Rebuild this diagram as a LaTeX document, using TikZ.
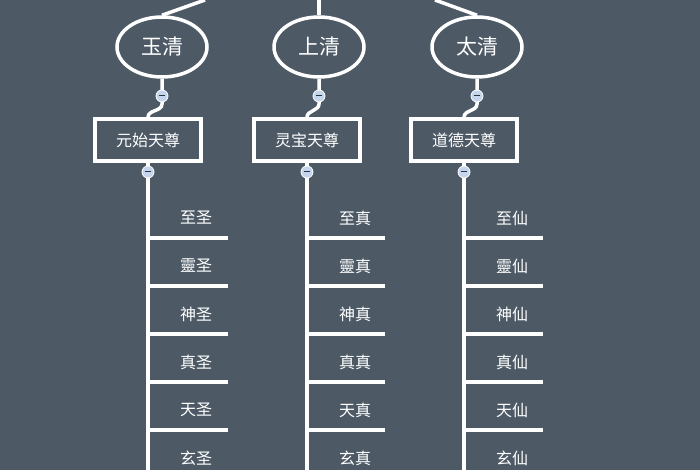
\documentclass[tikz,border=0pt]{standalone}
\usepackage{fontspec}
\setmainfont{Noto Sans CJK SC}
\usetikzlibrary{shapes.geometric}
\definecolor{bg}{HTML}{4D5A66}
\definecolor{minus}{HTML}{C5D5EE}
\begin{document}
\begin{tikzpicture}[x=1pt,y=-1pt,
  wl/.style={draw=white,line width=3.5pt},
  ell/.style={ellipse,wl,minimum width=90pt,minimum height=60pt,text=white,font=\fontsize{21}{21}\selectfont},
  box/.style={rectangle,wl,minimum width=106pt,minimum height=42pt,text=white,font=\fontsize{16}{16}\selectfont},
  lab/.style={text=white,font=\fontsize{16}{16}\selectfont},
  mn/.style={circle,fill=minus,draw=white,line width=0.8pt,minimum size=12pt,inner sep=0pt},
  mnline/.style={draw=bg!60!black,line width=1pt}]
\fill[bg] (0,0) rectangle (700,470);
\useasboundingbox (0,0) rectangle (700,470);
\coordinate (t1) at (205,0);
\coordinate (t2) at (319,0);
\coordinate (t3) at (435,0);
\foreach \i/\ex/\bx/\bn/\en/\sx/\bend in {1/162/148/元始天尊/玉清/圣/228, 2/319/307/灵宝天尊/上清/真/385, 3/477/464/道德天尊/太清/仙/543}{
  \node[ell] (e\i) at (\ex,47) {\en};
  \node[box] (b\i) at (\bx,140) {\bn};
  \coordinate (m\i) at (\ex,96);
  \coordinate (n\i) at (\bx,172);
  \coordinate (v\i) at (\bx,475);
  \draw[wl] (e\i.south) -- (m\i) -- (\ex,104) to[out=-90,in=90] (b\i.north);
  \draw[wl] (b\i.south) -- (v\i);
  \foreach \j/\p in {0/至,1/靈,2/神,3/真,4/天,5/玄}{
    \coordinate (h\i\j) at (\bx,238+48*\j);
    \coordinate (g\i\j) at (\bend,238+48*\j);
    \draw[wl] (h\i\j) -- (g\i\j);
    \node[lab] (l\i\j) at (\bx+48,218+48*\j) {\p\sx};
  }
  \node[mn] (c\i) at (m\i) {};
  \draw[mnline] ([xshift=-3pt]c\i.center) -- ([xshift=3pt]c\i.center);
  \node[mn] (d\i) at (n\i) {};
  \draw[mnline] ([xshift=-3pt]d\i.center) -- ([xshift=3pt]d\i.center);
}
\draw[wl] (e1.north) -- (t1);
\draw[wl] (e2.north) -- (t2);
\draw[wl] (e3.north) -- (t3);
\end{tikzpicture}
\end{document}
